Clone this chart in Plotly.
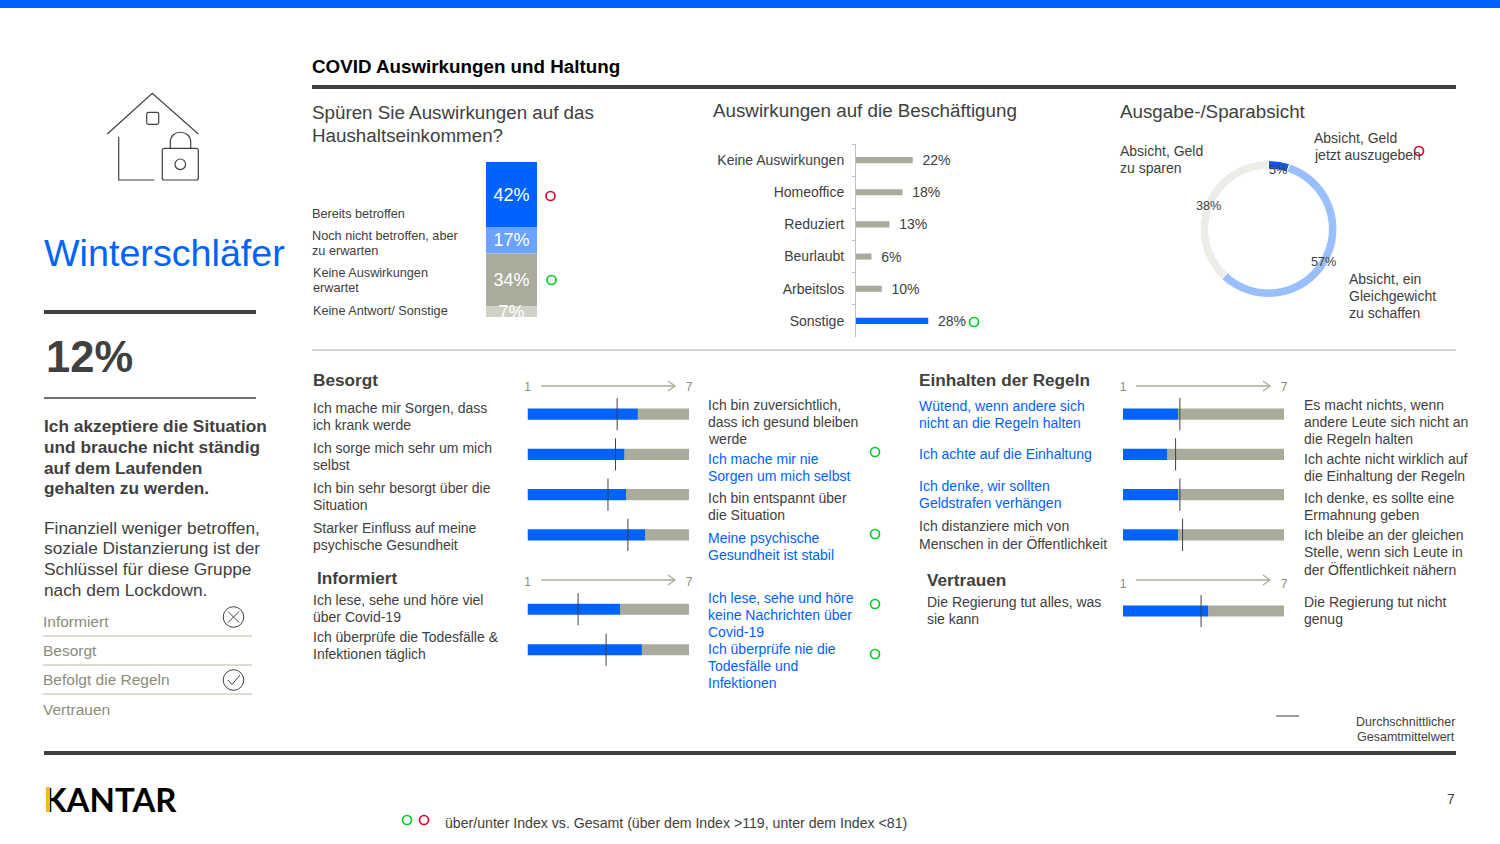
import numpy as np
import plotly.graph_objects as go

BLUE = "#0062FF"
LIGHT_BLUE = "#6AA2FF"
TAUPE = "#ABAB9B"
PALE_TAUPE = "#D0D0C5"
DARK = "#404040"
OLIVE = "#8C8C78"
GREEN = "#00CC22"
RED = "#E8002A"

# Household income stack
income_labels = ["Bereits betroffen", "Noch nicht betroffen, aber zu erwarten", "Keine Auswirkungen erwartet", "Keine Antwort/ Sonstige"]
income_values = [42, 17, 34, 7]

# Employment
job_labels = ["Keine Auswirkungen", "Homeoffice", "Reduziert", "Beurlaubt", "Arbeitslos", "Sonstige"]
job_values = [22, 18, 13, 6, 10, 28]

# Spend / save donut
spend_labels = ["Absicht, Geld jetzt auszugeben", "Absicht, ein Gleichgewicht zu schaffen", "Absicht, Geld zu sparen"]
spend_values = [5, 57, 38]

# 1-7 scales: segment score and overall mean
besorgt_rows = ["Sorgen krank", "Sorge um mich", "Besorgt Situation", "Psychische Gesundheit"]
besorgt_values = [5.1, 4.6, 4.66, 5.37]
besorgt_means = [4.33, 4.27, 3.99, 4.73]

informiert_rows = ["Lese, sehe, höre", "Todesfälle täglich"]
informiert_values = [4.44, 5.25]
informiert_means = [2.88, 3.92]

regeln_rows = ["Wütend", "Einhaltung", "Geldstrafen", "Distanzieren"]
regeln_values = [3.05, 2.64, 3.05, 3.05]
regeln_means = [3.12, 2.96, 3.12, 3.22]

vertrauen_rows = ["Regierung"]
vertrauen_values = [4.17]
vertrauen_means = [3.91]

W, H = 1500, 844


def dom_x(a, b):
    return [a / W, b / W]


def dom_y(top, bottom):
    return [1 - bottom / H, 1 - top / H]


fig = go.Figure()
notes = []
shapes = []


def txt(x, y, lines, size=14, color=DARK, bold=False, anchor="left", step=17, font="Liberation Sans"):
    # one annotation per line, the slide has tighter leading than plotly's
    for i, line in enumerate(lines):
        notes.append(dict(
            x=x, y=y + i * step, xref="x7", yref="y7", text=f"<b>{line}</b>" if bold else line,
            showarrow=False, xanchor=anchor, yanchor="middle", align=anchor, borderpad=0, borderwidth=0,
            font=dict(family=font, size=size, color=color),
        ))


def line(x0, y0, x1, y1, color=DARK, width=1.0):
    shapes.append(dict(type="line", x0=x0, y0=y0, x1=x1, y1=y1, xref="x7", yref="y7",
                       line=dict(color=color, width=width)))


def rect(x0, y0, x1, y1, color):
    shapes.append(dict(type="rect", x0=x0, y0=y0, x1=x1, y1=y1, xref="x7", yref="y7",
                       fillcolor=color, line=dict(width=0)))


def ring(cx, cy, r, color, width=1.7):
    shapes.append(dict(type="circle", x0=cx - r, y0=cy - r, x1=cx + r, y1=cy + r, xref="x7", yref="y7",
                       line=dict(color=color, width=width)))


def path(d, color=DARK, width=1.2):
    shapes.append(dict(type="path", path=d, xref="x7", yref="y7", line=dict(color=color, width=width)))


def scale_arrow(x0, x1, y):
    line(x0, y, x1, y, color=TAUPE, width=1.3)
    path(f"M {x1 - 7} {y - 5} L {x1} {y} L {x1 - 7} {y + 5}", color=TAUPE, width=1.3)


# income stacked bar
income_base = np.concatenate([[0], np.cumsum(income_values)[:-1]])
income_colors = [BLUE, LIGHT_BLUE, TAUPE, PALE_TAUPE]
for label, val, base, col in zip(income_labels, income_values, income_base, income_colors):
    fig.add_trace(go.Bar(
        x=[""], y=[val], base=[base], width=1, name=label, marker=dict(color=col, line=dict(width=0)),
        text=[f"{val}%"], textposition="inside", insidetextanchor="middle", constraintext="none",
        insidetextfont=dict(family="Liberation Sans", size=18, color="white"),
        cliponaxis=True, xaxis="x1", yaxis="y1",
    ))

# employment bars
job_colors = [TAUPE] * 5 + [BLUE]
fig.add_trace(go.Bar(
    x=job_values, y=job_labels, orientation="h", width=0.19, marker=dict(color=job_colors, line=dict(width=0)),
    text=[f"\u00a0\u2009{v}%" for v in job_values], textposition="outside", cliponaxis=False, constraintext="none",
    textfont=dict(family="Liberation Sans", size=14, color=DARK),
    xaxis="x2", yaxis="y2",
))

# donut
fig.add_trace(go.Pie(
    values=spend_values, labels=spend_labels, hole=0.875, sort=False, direction="clockwise", rotation=0,
    textinfo="none", showlegend=False,
    marker=dict(colors=["#0F5AE0", "#99BFFF", "#EDEDE8"], line=dict(color="white", width=1)),
    domain=dict(x=dom_x(1200, 1337), y=dom_y(160, 298)),
))


def add_scale(rows, values, means, xa, ya):
    vals = np.array(values)
    fig.add_trace(go.Bar(x=7 - vals, y=rows, base=vals, orientation="h", width=0.275,
                         marker=dict(color=TAUPE, line=dict(width=0)), xaxis=xa, yaxis=ya))
    fig.add_trace(go.Bar(x=vals - 1, y=rows, base=[1] * len(rows), orientation="h", width=0.275,
                         marker=dict(color=BLUE, line=dict(width=0)), xaxis=xa, yaxis=ya))
    fig.add_trace(go.Scatter(x=means, y=rows, mode="markers", xaxis=xa, yaxis=ya,
                             marker=dict(symbol="line-ns", size=23, line=dict(color=DARK, width=1))))


add_scale(besorgt_rows, besorgt_values, besorgt_means, "x3", "y3")
add_scale(informiert_rows, informiert_values, informiert_means, "x4", "y4")
add_scale(regeln_rows, regeln_values, regeln_means, "x5", "y5")
add_scale(vertrauen_rows, vertrauen_values, vertrauen_means, "x6", "y6")


# --- frame and rules
rect(0, 0, W, 8, BLUE)
rect(312, 85, 1456, 89, DARK)
line(312, 350, 1456, 350, color="#A6A6A6", width=1)
rect(44, 310, 256, 314, DARK)
line(44, 398, 256, 398, color=DARK, width=1.5)
rect(44, 751, 1456, 755, DARK)
for y in [636, 665, 694]:
    line(43, y, 252, y, color=PALE_TAUPE, width=1.5)

# --- house + lock icon
path("M 107.3 134 L 152.3 93.3 L 198.3 134")
path("M 118.7 136.7 L 118.7 180 L 154.3 180")
path("M 148.5 112.3 L 156.9 112.3 Q 158.7 112.3 158.7 114.1 L 158.7 122.5 Q 158.7 124.3 156.9 124.3 "
     "L 148.5 124.3 Q 146.7 124.3 146.7 122.5 L 146.7 114.1 Q 146.7 112.3 148.5 112.3 Z")
path("M 164.3 148.3 L 196.3 148.3 Q 198.3 148.3 198.3 150.3 L 198.3 178 Q 198.3 180 196.3 180 "
     "L 164.3 180 Q 162.3 180 162.3 178 L 162.3 150.3 Q 162.3 148.3 164.3 148.3 Z")
path("M 170.3 148.3 L 170.3 142 C 170.3 129 190.7 129 190.7 142 L 190.7 148.3")
ring(180.3, 164.3, 5.3, DARK, width=1.2)

# --- left column
txt(44, 253, ["Winterschläfer"], size=37.7, color=BLUE)
txt(46, 357, ["12%"], size=43.5, bold=True)
txt(44, 426, ["Ich akzeptiere die Situation", "und brauche nicht ständig", "auf dem Laufenden", "gehalten zu werden."],
    size=17.3, bold=True, step=20.8)
txt(44, 527.5, ["Finanziell weniger betroffen,", "soziale Distanzierung ist der", "Schlüssel für diese Gruppe", "nach dem Lockdown."],
    size=17.3, step=20.8)
txt(43, 621.5, ["Informiert"], size=15.5, color=OLIVE)
txt(43, 650.5, ["Besorgt"], size=15.5, color=OLIVE)
txt(43, 679.5, ["Befolgt die Regeln"], size=15.5, color=OLIVE)
txt(43, 709.5, ["Vertrauen"], size=15.5, color=OLIVE)
ring(233.5, 617, 10.3, DARK, width=1)
line(228, 611.5, 239, 622.5, width=1)
line(228, 622.5, 239, 611.5, width=1)
ring(233.5, 680, 10.3, DARK, width=1)
path("M 228 680 L 232 684.5 L 240 675", width=1)

# --- top row
txt(312, 66.5, ["COVID Auswirkungen und Haltung"], size=18.8, color="black", bold=True)
txt(312, 112.5, ["Spüren Sie Auswirkungen auf das", "Haushaltseinkommen?"], size=18.8, step=22.5)
txt(713, 110, ["Auswirkungen auf die Beschäftigung"], size=18.8)
txt(1120, 111, ["Ausgabe-/Sparabsicht"], size=18.8)

txt(312, 214, ["Bereits betroffen"], size=12.7)
txt(312, 236, ["Noch nicht betroffen, aber", "zu erwarten"], size=12.7, step=15)
txt(313, 273, ["Keine Auswirkungen", "erwartet"], size=12.7, step=15)
txt(313, 311, ["Keine Antwort/ Sonstige"], size=12.7)
ring(550.5, 196, 4.5, RED)
ring(551.5, 280, 4.5, GREEN)
ring(974, 322, 4.5, GREEN)
ring(1419, 151, 4.5, RED)

txt(1120, 151, ["Absicht, Geld", "zu sparen"], size=14)
txt(1314, 138, ["Absicht, Geld", "jetzt auszugeben"], size=14)
txt(1349, 279, ["Absicht, ein", "Gleichgewicht", "zu schaffen"], size=14)
txt(1278, 170, [f"{spend_values[0]}%"], size=12.7, anchor="center")
txt(1323, 262, [f"{spend_values[1]}%"], size=12.7, anchor="center")
txt(1208, 206, [f"{spend_values[2]}%"], size=12.7, anchor="center")

# --- scale block, left
txt(313, 380, ["Besorgt"], size=17.2, bold=True)
txt(313, 408, ["Ich mache mir Sorgen, dass", "ich krank werde"])
txt(313, 448, ["Ich sorge mich sehr um mich", "selbst"])
txt(313, 488, ["Ich bin sehr besorgt über die", "Situation"])
txt(313, 528, ["Starker Einfluss auf meine", "psychische Gesundheit"])
txt(317, 578, ["Informiert"], size=17.2, bold=True)
txt(313, 600, ["Ich lese, sehe und höre viel", "über Covid-19"])
txt(313, 637, ["Ich überprüfe die Todesfälle &", "Infektionen täglich"])

txt(708, 405, ["Ich bin zuversichtlich,", "dass ich gesund bleiben", "werde"])
txt(708, 459, ["Ich mache mir nie", "Sorgen um mich selbst"], color=BLUE)
txt(708, 498, ["Ich bin entspannt über", "die Situation"])
txt(708, 538, ["Meine psychische", "Gesundheit ist stabil"], color=BLUE)
txt(708, 598, ["Ich lese, sehe und höre", "keine Nachrichten über", "Covid-19"], color=BLUE)
txt(708, 649, ["Ich überprüfe nie die", "Todesfälle und", "Infektionen"], color=BLUE)
for y in [452, 534, 604, 654]:
    ring(875, y, 4.5, GREEN)

# --- scale block, right
txt(919, 380, ["Einhalten der Regeln"], size=17.2, bold=True)
txt(919, 406, ["Wütend, wenn andere sich", "nicht an die Regeln halten"], color=BLUE)
txt(919, 454, ["Ich achte auf die Einhaltung"], color=BLUE)
txt(919, 486, ["Ich denke, wir sollten", "Geldstrafen verhängen"], color=BLUE)
txt(919, 526, ["Ich distanziere mich von", "Menschen in der Öffentlichkeit"])
txt(927, 580, ["Vertrauen"], size=17.2, bold=True)
txt(927, 602, ["Die Regierung tut alles, was", "sie kann"])

txt(1304, 405, ["Es macht nichts, wenn", "andere Leute sich nicht an", "die Regeln halten"])
txt(1304, 459, ["Ich achte nicht wirklich auf", "die Einhaltung der Regeln"])
txt(1304, 498, ["Ich denke, es sollte eine", "Ermahnung geben"])
txt(1304, 535, ["Ich bleibe an der gleichen", "Stelle, wenn sich Leute in", "der Öffentlichkeit nähern"])
txt(1304, 602, ["Die Regierung tut nicht", "genug"])

scale_arrow(541, 675, 386)
scale_arrow(541, 675, 580)
scale_arrow(1136, 1270, 386)
scale_arrow(1136, 1270, 580)

# --- mean key and footer
line(1276, 716, 1299, 716, color="#808080", width=1.5)
txt(1455, 722, ["Durchschnittlicher", "Gesamtmittelwert"], size=12.5, anchor="right", step=15)
txt(44, 799, ["KANTAR"], size=33, color="black", bold=True, font="Lato")
# gold edge of the K sits on top of the text, so it has to be an annotation too
notes.append(dict(x=48.2, y=799, xref="x7", yref="y7", text=" ", showarrow=False, width=3.5, height=25,
                  xanchor="center", yanchor="middle", bgcolor="#F2B91C", borderpad=0, borderwidth=0))
txt(1455, 799, ["7"], anchor="right")
ring(407, 820, 4.5, GREEN)
ring(424, 820, 4.5, RED)
txt(445, 823, ["über/unter Index vs. Gesamt (über dem Index >119, unter dem Index <81)"], size=14.13)

hidden = dict(showgrid=False, zeroline=False, showline=False, showticklabels=False, ticks="", fixedrange=True)
tick_font = dict(family="Liberation Sans", size=12, color=OLIVE)
scale_x = dict(range=[1, 7], tickmode="array", tickvals=[1, 7], ticktext=["1", "7"], side="top", tickfont=tick_font,
               showgrid=False, zeroline=False, showline=False, ticks="", fixedrange=True)

fig.update_layout(
    template="none",
    width=W, height=H, margin=dict(l=0, r=0, t=0, b=0, pad=0), autosize=False,
    paper_bgcolor="white", plot_bgcolor="rgba(0,0,0,0)", showlegend=False, barmode="overlay",
    font=dict(family="Liberation Sans", color=DARK),
    annotations=notes, shapes=shapes,
    xaxis1=dict(domain=dom_x(486, 537), range=[-0.5, 0.5], type="category", **hidden),
    yaxis1=dict(domain=dom_y(162, 317), range=[100, 0], anchor="x1", **hidden),
    xaxis2=dict(domain=dom_x(856, 1114), range=[0, 100], anchor="y2", **hidden),
    yaxis2=dict(domain=dom_y(144, 337), range=[5.5, -0.5], anchor="x2", type="category", showgrid=False, zeroline=False,
                showline=True, linecolor="#BFBFBF", linewidth=1, ticks="outside", ticklen=3, tickcolor="#BFBFBF",
                tickson="boundaries", ticklabelstandoff=8, fixedrange=True,
                tickfont=dict(family="Liberation Sans", size=14, color=DARK)),
    xaxis3=dict(domain=dom_x(527.5, 689), anchor="y3", **scale_x),
    yaxis3=dict(domain=dom_y(394, 555), range=[3.5, -0.5], anchor="x3", type="category", **hidden),
    xaxis4=dict(domain=dom_x(527.5, 689), anchor="y4", **scale_x),
    yaxis4=dict(domain=dom_y(589, 670), range=[1.5, -0.5], anchor="x4", type="category", **hidden),
    xaxis5=dict(domain=dom_x(1123, 1284), anchor="y5", **scale_x),
    yaxis5=dict(domain=dom_y(394, 555), range=[3.5, -0.5], anchor="x5", type="category", **hidden),
    xaxis6=dict(domain=dom_x(1123, 1284), anchor="y6", **scale_x),
    yaxis6=dict(domain=dom_y(591, 631), range=[0.5, -0.5], anchor="x6", type="category", **hidden),
    # pixel canvas for the slide furniture
    xaxis7=dict(domain=[0, 1], range=[0, W], anchor="y7", visible=False, fixedrange=True),
    yaxis7=dict(domain=[0, 1], range=[H, 0], anchor="x7", visible=False, fixedrange=True),
)

fig.write_html("out.html", config={"displayModeBar": False}, post_script="document.body.style.margin='0';")
